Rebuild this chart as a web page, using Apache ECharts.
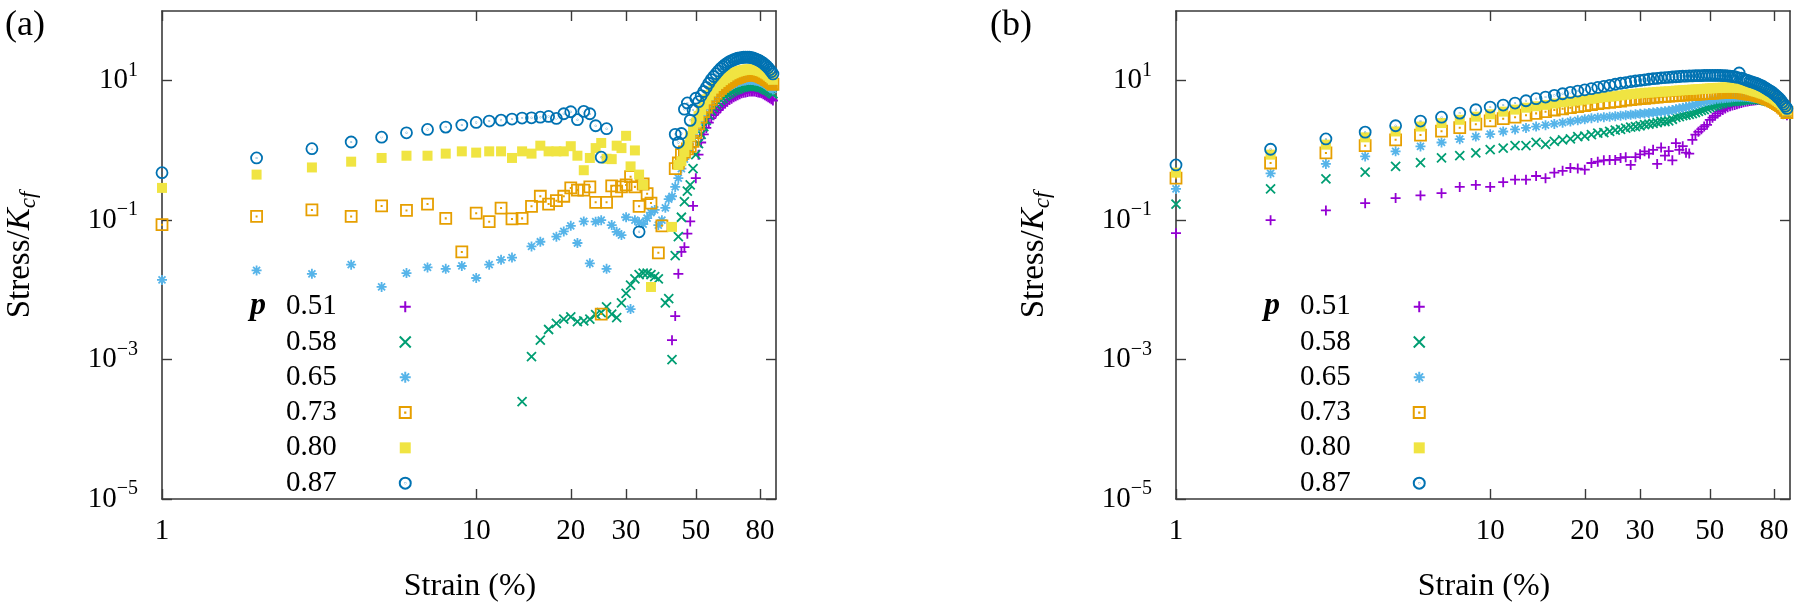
<!DOCTYPE html>
<html><head><meta charset="utf-8">
<script src="https://cdn.jsdelivr.net/npm/echarts@6/dist/echarts.min.js"></script>
<style>html,body{margin:0;padding:0;background:#fff}#chart{width:1800px;height:607px}</style>
</head><body><div id="chart"></div>
<script>
// ---------- data ----------
const STRAIN = [1,2,3,4,5,6,7,8,9,10,11,12,13,14,15,16,17,18,19,20,21,22,23,24,25,26,27,28,29,30,
31,32,33,34,35,36,37,38,39,40,41,42,43,44,45,46,47,48,49,50,51,52,53,54,55,56,57,58,59,60,
61,62,63,64,65,66,67,68,69,70,71,72,73,74,75,76,77,78,79,80,81,82,83,84,85,86,87,88];
const X_TICKS = [1,10,20,30,50,80];
const Y_TICKS = [1e-5,1e-3,1e-1,10];
const P_LABELS = ['0.51','0.58','0.65','0.73','0.80','0.87'];

// panel (a)
const A_051 = [null,null,null,null,null,null,null,null,null,null,
null,null,null,null,null,null,null,null,null,null,
null,null,null,null,null,null,null,null,null,null,
null,null,null,null,null,null,null,null,null,null,
null,0.0019,0.0042,0.017,0.035,0.041,0.064,0.096,0.16,0.40,
0.87,1.3,1.7,2.1,2.5,2.9,3.2,3.5,3.8,4.1,
4.4,4.7,5.0,5.3,5.5,5.8,6.0,6.2,6.4,6.6,
6.7,6.8,6.9,7.0,7.0,7.0,7.0,6.9,6.8,6.7,
6.6,6.4,6.2,6.0,5.8,5.6,5.4,5.2];
const A_058 = [null,null,null,null,null,null,null,null,null,null,
null,null,null,0.00025,0.0011,0.0019,0.0027,0.0033,0.0038,0.0041,
0.0035,0.0036,0.0038,0.0044,0.0047,0.0057,0.0045,0.0040,0.0065,0.0089,
0.0117,0.0144,0.0165,0.0174,0.0174,0.0165,0.0155,0.0144,null,0.0065,
0.0075,0.0010,0.031,0.058,0.11,0.185,0.26,0.32,0.55,0.87,
1.25,1.7,2.2,2.7,3.2,3.7,4.1,4.5,4.9,5.3,
5.6,6.0,6.3,6.6,6.9,7.2,7.4,7.6,7.8,8.0,
8.1,8.2,8.3,8.4,8.4,8.4,8.4,8.3,8.2,8.1,
8.0,7.8,7.6,7.4,7.2,7.0,6.7,6.5];
const A_065 = [0.0139,0.019,0.017,0.023,0.011,0.0174,0.021,0.020,0.022,0.0148,
0.023,0.027,0.029,null,0.042,0.049,null,0.058,0.069,0.083,
0.047,0.096,0.024,0.095,0.10,0.020,0.085,0.068,0.061,0.11,
0.0053,0.10,0.093,0.088,0.107,0.128,0.14,0.085,0.10,0.15,
0.20,0.22,0.30,0.40,0.55,0.75,1.02,1.35,1.7,2.1,
2.6,3.1,3.6,4.1,4.6,5.1,5.6,6.1,6.5,6.9,
7.3,7.7,8.0,8.4,8.7,9.0,9.3,9.5,9.7,9.9,
10.0,10.1,10.2,10.2,10.2,10.2,10.1,10.0,9.9,9.7,
9.5,9.3,9.0,8.7,8.4,8.1,7.8,7.5];
const A_073 = [0.086,0.113,0.14,0.113,0.16,0.138,0.17,0.106,0.035,0.126,
0.095,0.149,0.104,0.106,0.158,0.22,0.17,0.19,0.22,0.29,
0.27,0.27,0.30,0.18,0.0045,0.18,0.31,0.26,0.30,0.32,
0.42,0.30,0.158,0.33,0.24,0.176,null,0.034,0.083,null,
null,null,0.55,0.66,0.87,0.95,1.05,1.14,1.35,1.8,
2.4,3.0,3.6,4.2,4.8,5.4,6.0,6.6,7.2,7.8,
8.3,8.8,9.3,9.8,10.2,10.6,10.9,11.2,11.5,11.7,
11.9,12.0,12.1,12.2,12.2,12.2,12.1,12.0,11.8,11.6,
11.4,11.1,10.8,10.4,10.1,9.7,9.3,8.9];
const A_080 = [0.29,0.45,0.57,0.69,0.78,0.84,0.84,0.90,0.97,0.93,
0.97,0.97,0.78,0.97,0.90,1.17,0.97,0.97,0.97,1.15,
0.84,0.52,0.78,1.08,1.28,0.76,0.75,1.17,1.08,1.62,
0.59,1.0,0.45,0.32,null,0.011,null,null,null,null,
null,0.08,null,0.62,0.70,0.95,1.2,1.6,2.0,2.5,
3.1,3.8,4.6,5.4,6.2,7.0,7.7,8.4,9.0,9.6,
10.2,10.8,11.3,11.9,12.4,12.8,13.2,13.5,13.8,14.0,
14.2,14.4,14.5,14.5,14.5,14.5,14.4,14.2,14.0,13.8,
13.5,13.1,12.7,12.3,11.8,11.3,10.8,10.3];
const A_087 = [0.48,0.78,1.06,1.32,1.55,1.79,2.0,2.16,2.31,2.52,
2.64,2.72,2.82,2.91,2.94,3.0,3.07,2.88,3.36,3.59,
2.76,3.63,3.36,2.26,0.80,2.05,null,null,null,null,
null,null,0.068,null,null,null,null,null,null,null,
null,null,1.7,1.3,1.75,3.9,4.8,2.7,3.8,5.6,
5.0,6.1,7.0,8.0,9.2,10.4,11.5,12.6,13.8,15.0,
16.0,17.0,17.9,18.8,19.4,20.0,20.5,21.0,21.3,21.5,
21.7,21.8,21.8,21.7,21.5,21.2,20.8,20.3,19.8,19.2,
18.5,17.8,17.0,16.2,15.3,14.4,13.5,12.5];

// panel (b)
const B_051 = [0.065,0.10,0.138,0.175,0.207,0.226,0.244,0.30,0.32,0.30,
0.35,0.38,0.38,0.43,0.40,0.48,0.51,0.56,0.55,0.53,
0.66,0.69,0.72,0.73,0.73,0.78,0.80,0.62,0.80,0.88,
0.97,0.90,1.02,0.64,1.1,0.84,0.98,0.72,1.27,1.02,
1.15,0.93,0.90,1.42,1.68,1.85,2.02,2.2,2.33,2.75,
2.95,3.14,3.4,3.63,3.8,4.0,4.15,4.3,4.4,4.5,
4.6,4.7,4.8,4.9,5.0,5.05,5.1,5.15,5.2,5.25,
5.3,5.3,5.3,5.25,5.2,5.15,5.1,5.0,4.9,4.8,
4.65,4.5,4.35,4.2,4.0,3.75,3.5,3.2];
const B_058 = [0.17,0.28,0.39,0.49,0.59,0.67,0.78,0.84,0.92,1.03,
1.08,1.17,1.17,1.30,1.22,1.35,1.42,1.46,1.58,1.60,
1.68,1.77,1.80,1.87,1.95,2.0,2.09,2.16,2.2,2.26,
2.35,2.39,2.45,2.5,2.6,2.6,2.65,2.8,2.98,3.05,
3.15,3.2,3.3,3.36,3.5,3.63,3.75,3.84,4.0,4.15,
4.28,4.4,4.5,4.65,4.75,4.9,4.95,5.0,5.05,5.05,
5.1,5.15,5.2,5.25,5.3,5.3,5.35,5.35,5.4,5.4,
5.4,5.35,5.3,5.3,5.2,5.15,5.05,5.0,4.9,4.75,
4.65,4.5,4.35,4.2,4.0,3.8,3.55,3.3];
const B_065 = [0.28,0.47,0.64,0.82,0.97,1.14,1.30,1.45,1.58,1.71,
1.87,2.0,2.1,2.2,2.3,2.4,2.5,2.6,2.7,2.8,
2.9,2.95,3.0,3.05,3.1,3.15,3.2,3.25,3.3,3.35,
3.4,3.45,3.5,3.55,3.6,3.65,3.7,3.8,3.9,4.0,
4.1,4.2,4.3,4.4,4.55,4.7,4.85,5.0,5.1,5.2,
5.3,5.4,5.5,5.55,5.6,5.65,5.7,5.75,5.8,5.85,
5.9,5.9,5.9,5.9,5.9,5.85,5.8,5.75,5.7,5.65,
5.6,5.5,5.45,5.35,5.3,5.2,5.1,5.0,4.9,4.8,
4.65,4.5,4.35,4.2,4.0,3.8,3.6,3.4];
const B_073 = [0.40,0.66,0.92,1.17,1.42,1.66,1.89,2.12,2.38,2.65,
2.85,3.0,3.2,3.4,3.6,3.8,3.95,4.1,4.25,4.4,
4.55,4.7,4.8,4.9,5.0,5.1,5.25,5.35,5.45,5.55,
5.6,5.7,5.75,5.8,5.9,5.95,6.0,6.05,6.1,6.15,
6.2,6.25,6.3,6.35,6.4,6.45,6.5,6.55,6.6,6.6,
6.65,6.7,6.7,6.75,6.75,6.8,6.8,6.8,6.8,6.8,
6.75,6.75,6.7,6.65,6.6,6.5,6.45,6.35,6.3,6.2,
6.1,6.0,5.9,5.8,5.7,5.55,5.45,5.3,5.15,5.0,
4.85,4.7,4.55,4.4,4.2,4.0,3.75,3.5];
const B_080 = [0.48,0.87,1.21,1.54,1.87,2.2,2.47,2.75,3.05,3.3,
3.6,3.85,4.1,4.3,4.5,4.7,4.9,5.05,5.2,5.35,
5.5,5.64,5.8,5.9,6.0,6.15,6.3,6.4,6.5,6.6,
6.7,6.75,6.8,6.9,6.95,7.0,7.05,7.1,7.2,7.25,
7.3,7.35,7.4,7.45,7.5,7.55,7.6,7.65,7.7,7.75,
7.8,7.85,7.9,7.9,7.95,8.0,8.0,8.0,8.0,8.0,
7.95,7.9,7.85,7.8,7.75,7.6,7.45,7.3,7.15,7.0,
6.9,6.75,6.6,6.5,6.35,6.2,6.0,5.85,5.7,5.55,
5.35,5.15,4.95,4.75,4.5,4.25,4.0,3.75];
const B_087 = [0.62,1.04,1.46,1.83,2.26,2.64,3.0,3.43,3.83,4.19,
4.48,4.78,5.16,5.52,5.83,6.16,6.5,6.8,7.1,7.4,
7.7,8.0,8.3,8.6,8.9,9.2,9.4,9.7,9.9,10.1,
10.3,10.5,10.7,10.8,11.0,11.1,11.2,11.3,11.4,11.5,
11.6,11.6,11.7,11.7,11.8,11.8,11.8,11.9,11.9,11.9,
11.9,11.9,11.9,11.9,11.8,11.8,11.7,11.6,11.5,11.4,
11.2,12.9,10.9,10.6,10.3,10.1,9.8,9.6,9.4,9.2,
9.0,8.7,8.5,8.2,7.9,7.6,7.3,7.1,6.8,6.5,
6.2,5.9,5.6,5.3,4.9,4.6,4.3,4.0];

const PANEL_A = [A_051, A_058, A_065, A_073, A_080, A_087];
const PANEL_B = [B_051, B_058, B_065, B_073, B_080, B_087];

// ---------- styling ----------
const COLORS = ['#9400d3','#009e73','#56b4e9','#e69f00','#f0e442','#0072b2'];
const SYMBOLS = [
  'path://M0,5L10,5M5,0L5,10',
  'path://M0,0L10,10M0,10L10,0',
  'path://M0,5L10,5M5,0L5,10M1.5,1.5L8.5,8.5M1.5,8.5L8.5,1.5',
  'path://M0,0L10,0L10,10L0,10Z M4.9,4.9L5.1,4.9L5.1,5.1L4.9,5.1Z',
  'rect',
  'path://M10,5A5,5,0,1,1,0,5A5,5,0,1,1,10,5Z M5.1,5A0.1,0.1,0,1,1,4.9,5A0.1,0.1,0,1,1,5.1,5Z'
];
const SIZES = [10, 9, 10, 11, 10, 11];
const FILLED = [false,false,false,false,true,false];
const FONT = "'Liberation Serif', 'DejaVu Serif', serif";
const AXIS_COLOR = '#3a3a3a';

const GRIDS = [
  {left: 162, top: 11, width: 614, height: 488},
  {left: 1176, top: 11, width: 614, height: 488}
];

function supLabel(v) {
  const e = Math.round(Math.log10(v));
  return '{b|10}{s|' + (e < 0 ? '\u2212' : '') + Math.abs(e) + '}';
}

const xAxes = [], yAxes = [];
GRIDS.forEach((g, k) => {
  const line = {show: true, onZero: false, lineStyle: {color: AXIS_COLOR, width: 1.6}};
  const tick = (vals) => ({show: true, inside: true, length: 10, customValues: vals, lineStyle: {color: AXIS_COLOR, width: 1.4}});
  xAxes.push({
    gridIndex: k, type: 'log', logBase: 10, min: 1, max: 90, position: 'bottom',
    axisLine: line, axisTick: tick(X_TICKS), splitLine: {show: false}, minorTick: {show: false},
    axisLabel: {customValues: X_TICKS, margin: 18, fontFamily: FONT, fontSize: 29, color: '#000',
      formatter: v => String(Math.round(v))}
  });
  xAxes.push({
    gridIndex: k, type: 'log', logBase: 10, min: 1, max: 90, position: 'top',
    axisLine: line, axisTick: tick(X_TICKS), splitLine: {show: false}, axisLabel: {show: false}
  });
  yAxes.push({
    gridIndex: k, type: 'log', logBase: 10, min: 1e-5, max: 100, position: 'left',
    axisLine: line, axisTick: tick(Y_TICKS), splitLine: {show: false}, minorTick: {show: false},
    axisLabel: {customValues: Y_TICKS, margin: 24, formatter: supLabel,
      rich: {
        b: {fontFamily: FONT, fontSize: 29, lineHeight: 40, color: '#000'},
        s: {fontFamily: FONT, fontSize: 20, lineHeight: 20, verticalAlign: 'top', color: '#000'}
      }}
  });
  yAxes.push({
    gridIndex: k, type: 'log', logBase: 10, min: 1e-5, max: 100, position: 'right',
    axisLine: line, axisTick: tick(Y_TICKS), splitLine: {show: false}, axisLabel: {show: false}
  });
});

const series = [];
[PANEL_A, PANEL_B].forEach((panel, k) => {
  panel.forEach((vals, i) => {
    const data = [];
    STRAIN.forEach((s, j) => { if (vals[j] != null) data.push([s, vals[j]]); });
    series.push({
      type: 'scatter', name: P_LABELS[i], xAxisIndex: 2 * k, yAxisIndex: 2 * k,
      data: data, symbol: SYMBOLS[i], symbolSize: SIZES[i], silent: true,
      itemStyle: FILLED[i] ? {color: COLORS[i], opacity: 1}
        : {color: 'none', borderColor: COLORS[i], borderWidth: 1.8, opacity: 1}
    });
  });
});

const legendBase = (left) => ({
  left: left, top: 289, orient: 'vertical', align: 'right', padding: 0, itemGap: 0,
  itemWidth: 11, itemHeight: 11, selectedMode: false, data: P_LABELS,
  textStyle: {fontFamily: FONT, fontSize: 29, color: '#000', lineHeight: 35.3, padding: [0, 58, 0, 0]}
});

const graphics = [
  {type: 'text', left: 5, top: 8, style: {text: '(a)', fontFamily: FONT, fontSize: 36, fill: '#000'}},
  {type: 'text', left: 990, top: 8, style: {text: '(b)', fontFamily: FONT, fontSize: 36, fill: '#000'}}
];
[{ax: 162, px: 258, cx: 470}, {ax: 1176, px: 1272, cx: 1484}].forEach(o => {
  graphics.push({type: 'text', x: o.ax - 142, y: 255, rotation: Math.PI / 2,
    style: {text: 'Stress/{k|K}{c|cf}', fontFamily: FONT, fontSize: 33, fill: '#000',
      align: 'center', verticalAlign: 'middle', lineHeight: 40,
      rich: {
        k: {fontFamily: FONT, fontSize: 33, fontStyle: 'italic', lineHeight: 40},
        c: {fontFamily: FONT, fontSize: 23, fontStyle: 'italic', lineHeight: 16, verticalAlign: 'bottom'}
      }}});
  graphics.push({type: 'text', x: o.cx, y: 587,
    style: {text: 'Strain (%)', fontFamily: FONT, fontSize: 32, fill: '#000', align: 'center', verticalAlign: 'middle'}});
  graphics.push({type: 'text', x: o.px, y: 306,
    style: {text: 'p', fontFamily: FONT, fontSize: 32, fontStyle: 'italic', fontWeight: 'bold', fill: '#000', align: 'center', verticalAlign: 'middle'}});
});

const chart = echarts.init(document.getElementById('chart'), null, {renderer: 'canvas'});
chart.setOption({
  animation: false,
  backgroundColor: '#fff',
  grid: GRIDS,
  xAxis: xAxes,
  yAxis: yAxes,
  legend: [legendBase(286), legendBase(1300)],
  graphic: graphics,
  series: series
});
</script>
</body></html>
